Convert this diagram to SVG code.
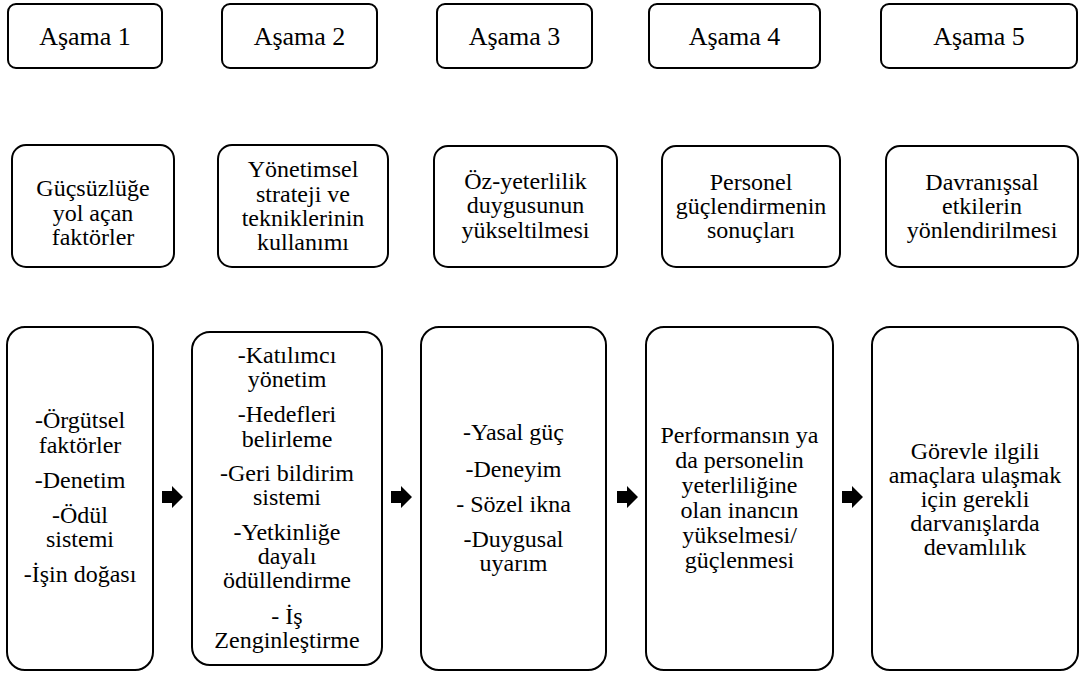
<svg xmlns="http://www.w3.org/2000/svg" width="1081" height="675" viewBox="0 0 1081 675">
<style>
.b{fill:#fff;stroke:#000;stroke-width:2}
.t{font-family:'Liberation Serif','DejaVu Serif',serif;fill:#000;text-anchor:middle;font-size:24px}
.h{font-size:26px}
.a{fill:#000}
</style>
<rect width="1081" height="675" fill="#fff"/>
<g class="t" font-family="Liberation Serif, DejaVu Serif, serif">
<g id="stage1"><rect class="b" x="8" y="4" width="154" height="64" rx="8"/><text class="h" x="85" y="45">Aşama 1</text></g>
<g id="stage2"><rect class="b" x="222" y="4" width="155" height="64" rx="8"/><text class="h" x="299.5" y="45">Aşama 2</text></g>
<g id="stage3"><rect class="b" x="437" y="4" width="155" height="64" rx="8"/><text class="h" x="514.5" y="45">Aşama 3</text></g>
<g id="stage4"><rect class="b" x="649" y="4" width="171" height="64" rx="8"/><text class="h" x="734.5" y="45">Aşama 4</text></g>
<g id="stage5"><rect class="b" x="881" y="4" width="196" height="64" rx="8"/><text class="h" x="979" y="45">Aşama 5</text></g>

<g id="title1"><rect class="b" x="12" y="145" width="162" height="122" rx="14"/><text x="93" y="196">Güçsüzlüğe</text><text x="93" y="221">yol açan</text><text x="93" y="245">faktörler</text></g>
<g id="title2"><rect class="b" x="218" y="145" width="170" height="122" rx="14"/><text x="303" y="177">Yönetimsel</text><text x="303" y="202">strateji ve</text><text x="303" y="226">tekniklerinin</text><text x="303" y="250">kullanımı</text></g>
<g id="title3"><rect class="b" x="434" y="146" width="183" height="121" rx="14"/><text x="525.5" y="189">Öz-yeterlilik</text><text x="525.5" y="213">duygusunun</text><text x="525.5" y="238">yükseltilmesi</text></g>
<g id="title4"><rect class="b" x="662" y="146" width="178" height="121" rx="14"/><text x="751" y="190">Personel</text><text x="751" y="214">güçlendirmenin</text><text x="751" y="238">sonuçları</text></g>
<g id="title5"><rect class="b" x="886" y="146" width="192" height="121" rx="14"/><text x="982" y="190">Davranışsal</text><text x="982" y="214">etkilerin</text><text x="982" y="238">yönlendirilmesi</text></g>

<g id="detail1"><rect class="b" x="7" y="327" width="146" height="343" rx="18"/>
<text x="80" y="428">-Örgütsel</text><text x="80" y="453">faktörler</text><text x="80" y="488">-Denetim</text><text x="80" y="523">-Ödül</text><text x="80" y="547">sistemi</text><text x="80" y="582">-İşin doğası</text></g>
<g id="detail2"><rect class="b" x="192" y="332" width="190" height="333" rx="18"/>
<text x="287" y="363">-Katılımcı</text><text x="287" y="387">yönetim</text><text x="287" y="422">-Hedefleri</text><text x="287" y="447">belirleme</text><text x="287" y="481">-Geri bildirim</text><text x="287" y="505">sistemi</text><text x="287" y="540">-Yetkinliğe</text><text x="287" y="564">dayalı</text><text x="287" y="588">ödüllendirme</text><text x="287" y="624">- İş</text><text x="287" y="648">Zenginleştirme</text></g>
<g id="detail3"><rect class="b" x="421" y="327" width="185" height="343" rx="18"/>
<text x="513.5" y="440">-Yasal güç</text><text x="513.5" y="477">-Deneyim</text><text x="513.5" y="512">- Sözel ikna</text><text x="513.5" y="547">-Duygusal</text><text x="513.5" y="571">uyarım</text></g>
<g id="detail4"><rect class="b" x="646" y="327" width="187" height="343" rx="18"/>
<text x="739.5" y="443">Performansın ya</text><text x="739.5" y="468">da personelin</text><text x="739.5" y="493">yeterliliğine</text><text x="739.5" y="518">olan inancın</text><text x="739.5" y="543">yükselmesi/</text><text x="739.5" y="568">güçlenmesi</text></g>
<g id="detail5"><rect class="b" x="872" y="327" width="206" height="343" rx="18"/>
<text x="975" y="459">Görevle ilgili</text><text x="975" y="483">amaçlara ulaşmak</text><text x="975" y="507">için gerekli</text><text x="975" y="531">darvanışlarda</text><text x="975" y="555">devamlılık</text></g>
</g>
<defs><path id="arr" d="M0,-6 H10 V-11 L21,0 L10,11 V6 H0 Z"/></defs>
<g id="connectors">
<use href="#arr" class="a" x="162" y="497"/>
<use href="#arr" class="a" x="391" y="497"/>
<use href="#arr" class="a" x="617" y="497"/>
<use href="#arr" class="a" x="842" y="497"/>
</g>
</svg>
